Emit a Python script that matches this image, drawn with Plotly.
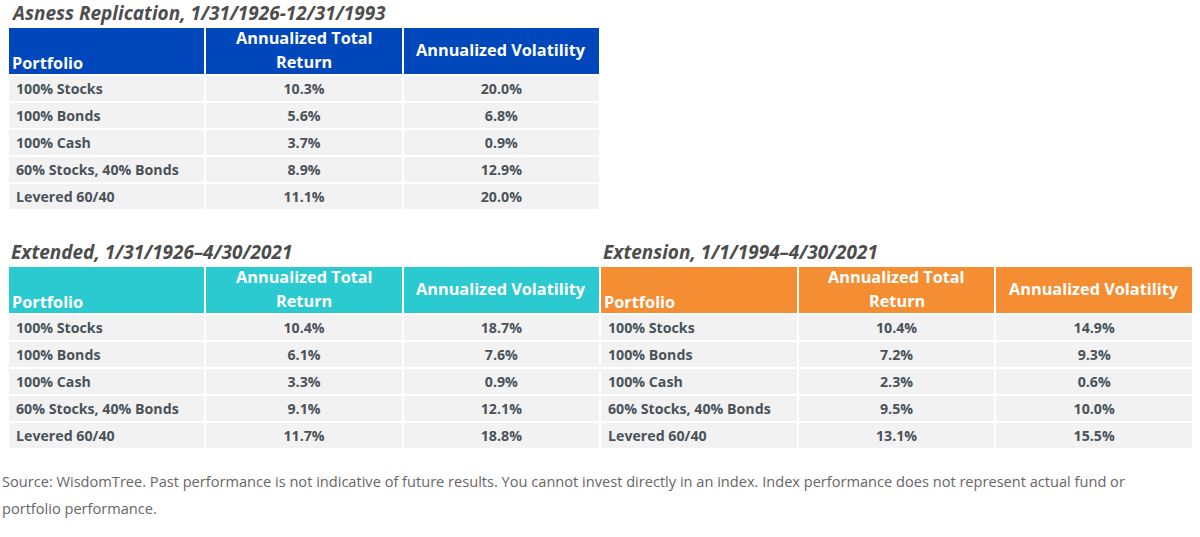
import plotly.graph_objects as go

# ---------------- data ----------------
portfolios = ["100% Stocks", "100% Bonds", "100% Cash", "60% Stocks, 40% Bonds", "Levered 60/40"]
col_headers = ["Portfolio", "Annualized Total<br>Return", "Annualized Volatility"]

title_1 = "Asness Replication, 1/31/1926-12/31/1993"
return_1 = ["10.3%", "5.6%", "3.7%", "8.9%", "11.1%"]
vol_1 = ["20.0%", "6.8%", "0.9%", "12.9%", "20.0%"]

title_2 = "Extended, 1/31/1926\u20134/30/2021"
return_2 = ["10.4%", "6.1%", "3.3%", "9.1%", "11.7%"]
vol_2 = ["18.7%", "7.6%", "0.9%", "12.1%", "18.8%"]

title_3 = "Extension, 1/1/1994\u20134/30/2021"
return_3 = ["10.4%", "7.2%", "2.3%", "9.5%", "13.1%"]
vol_3 = ["14.9%", "9.3%", "0.6%", "10.0%", "15.5%"]

source_lines = ["Source: WisdomTree. Past performance is not indicative of future results. You cannot invest "
                "directly in an index. Index performance does not represent actual fund or",
                "portfolio performance."]

# ---------------- layout ----------------
W, H = 1200, 537
FONT = "Open Sans"
BODY_COLOR = "#4a5259"
CELL_FILL = "#f2f2f2"
HEADER_H = 48
ROW_H = 27


def nb(lst):
    # non-breaking spaces keep plotly from growing the row height
    return [v.replace(" ", "\u00a0") for v in lst]


def px_x(x):
    return x / W


def px_y(y):
    return 1 - y / H


fig = go.Figure()


def add_table(x0, x1, top, fill, ret, vol, title):
    bottom = top + HEADER_H + ROW_H * len(portfolios) + 10
    fig.add_trace(go.Table(
        domain=dict(x=[px_x(x0), px_x(x1)], y=[px_y(bottom), px_y(top)]),
        columnwidth=[1, 1, 1],
        header=dict(
            values=["", "", ""],
            fill_color=fill,
            line=dict(color="white", width=2),
            height=HEADER_H,
        ),
        cells=dict(
            values=[nb(portfolios), nb(ret), nb(vol)],
            fill_color=CELL_FILL,
            line=dict(color="white", width=2),
            align=["left", "center", "center"],
            font=dict(family=FONT, size=14.2, color=BODY_COLOR, weight="bold"),
            height=ROW_H,
        ),
    ))
    colw = (x1 - x0) / 3
    hfont = dict(family=FONT, size=16.3, color="white", weight="bold")
    # header texts
    fig.add_annotation(text=col_headers[0], x=px_x(x0 + 2), y=px_y(top + 36),
                       xanchor="left", yanchor="middle", showarrow=False, font=hfont)
    for i in (1, 2):
        lines = col_headers[i].split("<br>")
        if len(lines) == 1:
            ys = [top + 23]
        else:
            ys = [top + 11, top + 35]
        for ln, yy in zip(lines, ys):
            fig.add_annotation(text=ln, x=px_x(x0 + colw * (i + 0.5)), y=px_y(yy),
                               xanchor="center", yanchor="middle", showarrow=False, font=hfont)
    # title
    fig.add_annotation(text=title, x=px_x(x0 + 2), y=px_y(top - 14), borderpad=0,
                       xanchor="left", yanchor="middle", showarrow=False,
                       font=dict(family=FONT, size=19, color="#4d4d4d", weight="bold", style="italic"))


add_table(8, 600, 27, "#0047bb", return_1, vol_1, title_1)
add_table(8, 600, 266, "#2bcad1", return_2, vol_2, title_2)
add_table(600, 1193, 266, "#f58e32", return_3, vol_3, title_3)

for line, y in zip(source_lines, [481, 508]):
    fig.add_annotation(text=line, x=0, y=px_y(y), xanchor="left", yanchor="middle",
                       align="left", showarrow=False,
                       font=dict(family=FONT, size=14.6, color="#666666"))

fig.update_layout(width=W, height=H, margin=dict(l=0, r=0, t=0, b=0),
                  paper_bgcolor="white", plot_bgcolor="white")

fig.write_html("out.html", config={"displayModeBar": False},
               post_script="document.body.style.margin='0';")
